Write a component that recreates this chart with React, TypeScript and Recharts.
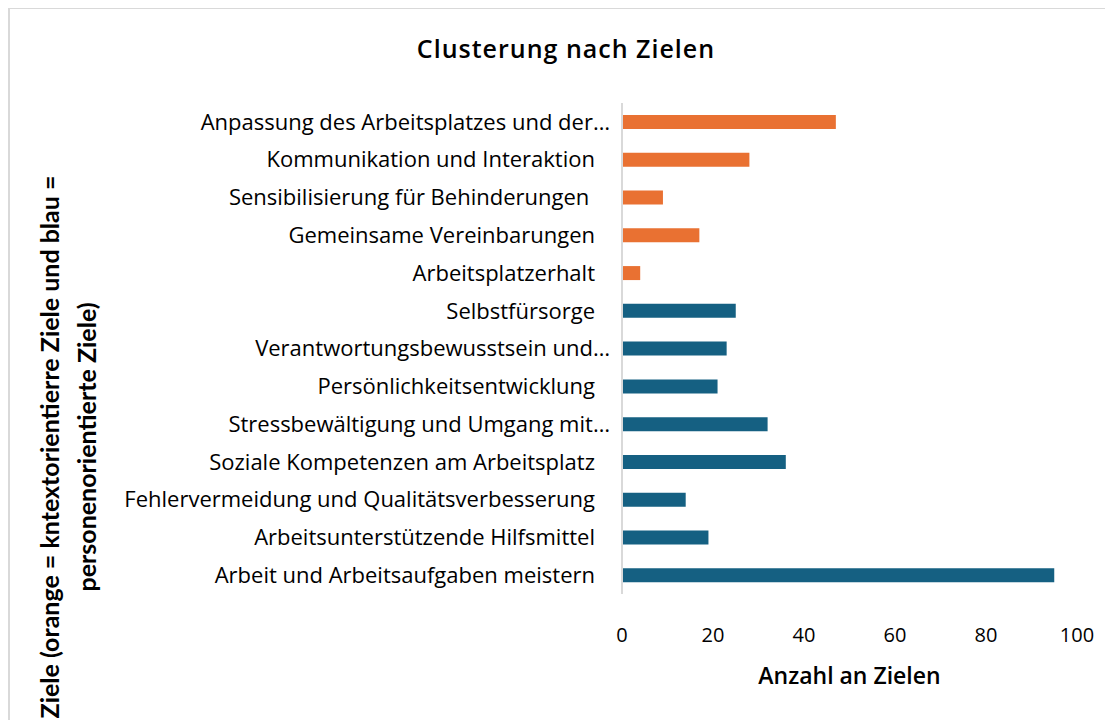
import { BarChart, Bar, XAxis, YAxis, Cell } from "recharts";

const categories = [
  "Anpassung des Arbeitsplatzes und der…",
  "Kommunikation und Interaktion",
  "Sensibilisierung für Behinderungen\u00a0",
  "Gemeinsame Vereinbarungen",
  "Arbeitsplatzerhalt",
  "Selbstfürsorge",
  "Verantwortungsbewusstsein und…",
  "Persönlichkeitsentwicklung",
  "Stressbewältigung und Umgang mit…",
  "Soziale Kompetenzen am Arbeitsplatz",
  "Fehlervermeidung und Qualitätsverbesserung",
  "Arbeitsunterstützende Hilfsmittel",
  "Arbeit und Arbeitsaufgaben meistern",
];

const values = [47, 28, 9, 17, 4, 25, 23, 21, 32, 36, 14, 19, 95];

// orange = kontextorientiert, blau = personenorientiert
const groups = [
  "kontext", "kontext", "kontext", "kontext", "kontext",
  "person", "person", "person", "person", "person", "person", "person", "person",
];

const xTicks = [0, 20, 40, 60, 80, 100];

const COLORS: Record<string, string> = {
  kontext: "#E97132",
  person: "#156082",
};

const data = categories.map((name, i) => ({
  name,
  value: values[i],
  group: groups[i],
}));

const FONT = "'Open Sans', sans-serif";
const TITLE_FONT = "Lato, 'Open Sans', sans-serif";

// Excel lets the "…" of truncated labels hang a bit further right
const CategoryTick = (props: any) => {
  const { x, y, payload } = props;
  const label: string = payload.value;
  const shift = label.endsWith("…") ? 15 : 0;
  return (
    <text
      x={x + shift}
      y={y}
      dy="0.355em"
      textAnchor="end"
      fill="#000"
      fontSize={22}
      fontFamily={FONT}
    >
      {label}
    </text>
  );
};

// rotated two-line y axis title
const YTitle = () => (
  <g>
    <text
      x={51}
      y={439}
      transform="rotate(-90, 51, 439)"
      textAnchor="middle"
      fontFamily={TITLE_FONT}
      fontWeight={700}
      fontSize={25}
      fill="#000"
    >
      Ziele (orange = kntextorientierre Ziele und blau =
    </text>
    <text
      x={88}
      y={439}
      transform="rotate(-90, 88, 439)"
      textAnchor="middle"
      fontFamily={TITLE_FONT}
      fontWeight={700}
      fontSize={25}
      fill="#000"
    >
      personenorientierte Ziele)
    </text>
  </g>
);

export default function App() {
  return (
    <div style={{ position: "relative", width: 1105, height: 712, background: "#fff" }}>
      <div
        style={{
          position: "absolute",
          left: 0,
          top: -1,
          width: 1106,
          height: 714,
          borderTop: "2px solid #d9d9d9",
          borderLeft: "2px solid #d9d9d9",
          boxSizing: "border-box",
          pointerEvents: "none",
        }}
      />
      <div
        style={{
          position: "absolute",
          left: 308,
          top: 24,
          width: 500,
          textAlign: "center",
          fontFamily: FONT,
          fontWeight: 600,
          fontSize: 25,
          letterSpacing: 1,
          lineHeight: "32px",
          color: "#000",
        }}
      >
        Clusterung nach Zielen
      </div>
      <BarChart
        width={1105}
        height={712}
        data={data}
        layout="vertical"
        margin={{ top: 95, right: 36, left: 0, bottom: 26 }}
      >
        <XAxis
          type="number"
          domain={[0, 100]}
          ticks={xTicks}
          axisLine={false}
          tickLine={false}
          tickSize={0}
          tickMargin={34}
          height={100}
          tick={{ fill: "#000", fontSize: 20, fontFamily: FONT }}
          label={{
            value: "Anzahl an Zielen",
            position: "insideBottom",
            offset: 10,
            fill: "#000",
            fontSize: 23,
            fontWeight: 600,
            fontFamily: FONT,
          }}
        />
        <YAxis
          type="category"
          dataKey="name"
          width={614}
          axisLine={{ stroke: "#d9d9d9", strokeWidth: 2 }}
          tickLine={false}
          tickSize={0}
          tickMargin={27}
          interval={0}
          tick={<CategoryTick />}
          label={<YTitle />}
        />
        <Bar dataKey="value" barSize={14} isAnimationActive={false}>
          {data.map((d, i) => (
            <Cell key={i} fill={COLORS[d.group]} />
          ))}
        </Bar>
      </BarChart>
    </div>
  );
}
